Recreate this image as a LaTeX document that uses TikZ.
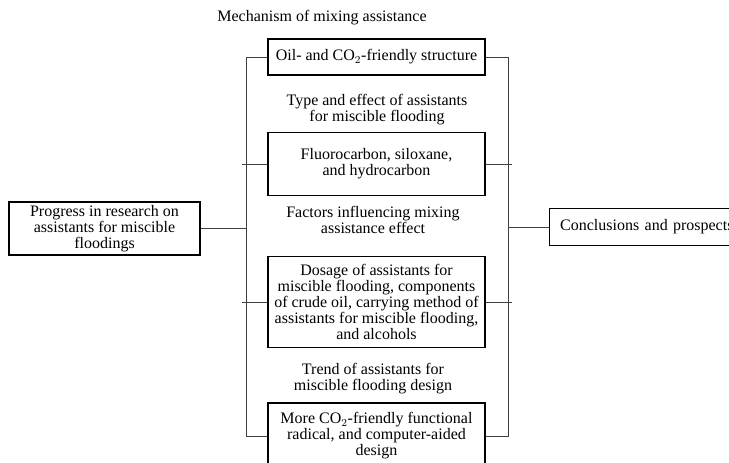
\documentclass[tikz,border=0pt]{standalone}
\usepackage{fontspec}
\setmainfont{Liberation Serif}

\begin{document}
\begin{tikzpicture}[x=0.75pt,y=-0.75pt]
\tikzstyle{item}=[draw,line width=0.8pt,align=center,inner sep=2pt,font=\fontsize{12}{12}\selectfont]
\tikzstyle{label}=[align=center,font=\fontsize{12}{12}\selectfont]
\tikzstyle{link}=[draw=black!75,line width=0.6pt]
\useasboundingbox (0,0) rectangle (729,462);

\path (104.5,228.5) node[item,minimum width=143.25pt,minimum height=39.75pt](root)
  {Progress in research on\\assistants for miscible\\floodings};
\path (549,227) node[item,anchor=west,minimum height=27.75pt,text width=135pt,align=left,inner sep=8pt](end)
  {Conclusions and prospects};

\path (322,18) node[label](t1){Mechanism of mixing assistance};
\path (376.5,57) node[item,minimum width=162.75pt,minimum height=27pt](b1)
  {Oil- and CO$_2$-friendly structure};
\path (377,110) node[label](t2){Type and effect of assistants\\for miscible flooding};
\path (376.5,164) node[item,minimum width=162.75pt,minimum height=47.25pt](b2)
  {Fluorocarbon, siloxane,\\and hydrocarbon};
\path (373,220) node[label](t3){Factors influencing mixing\\assistance effect};
\path (376.5,302) node[item,minimum width=162.75pt,minimum height=68.25pt](b3)
  {Dosage of assistants for\\miscible flooding, components\\of crude oil, carrying method of\\assistants for miscible flooding,\\and alcohols};
\path (373,379) node[label](t4){Trend of assistants for\\miscible flooding design};
\path (376.5,436) node[item,minimum width=162.75pt,minimum height=49.5pt](b4)
  {More CO$_2$-friendly functional\\radical, and computer-aided\\design};

\coordinate (lv) at (246,0);
\coordinate (rv) at (508,0);

% left bracket
\draw[link] (b1.west) -| (b4.west -| lv) -- (b4.west);
\draw[link] (b2.west) -- ([xshift=-3]b2.west -| lv);
\draw[link] (b3.west) -- ([xshift=-3]b3.west -| lv);
\draw[link] (root.east) -- (root.east -| lv);

% right bracket
\draw[link] (b1.east) -| (b4.east -| rv) -- (b4.east);
\draw[link] (b2.east) -- ([xshift=3]b2.east -| rv);
\draw[link] (b3.east) -- ([xshift=3]b3.east -| rv);
\draw[link] (end.west) -- (end.west -| rv);
\end{tikzpicture}
\end{document}
